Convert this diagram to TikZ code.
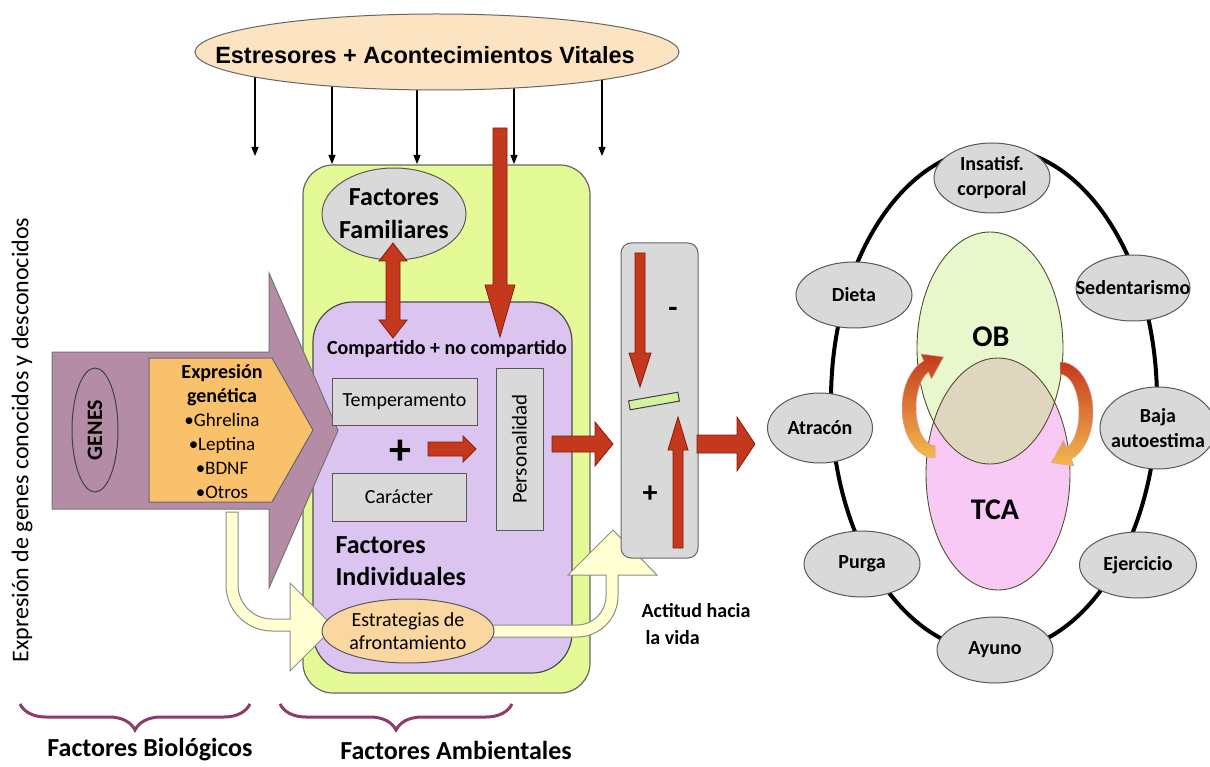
\documentclass[tikz,border=0pt]{standalone}
\usepackage{fontspec}
\setmainfont{Carlito}
\newfontfamily\arialfont{Liberation Sans}
\usetikzlibrary{shapes.geometric,decorations.pathreplacing,backgrounds,arrows.meta}
\definecolor{limeA}{HTML}{E4FA96}
\definecolor{lavA}{HTML}{DCC4F0}
\definecolor{mauveA}{HTML}{B48CA6}
\definecolor{orngA}{HTML}{F9C16B}
\definecolor{peachA}{HTML}{FAD7A0}
\definecolor{topA}{HTML}{FCE4C2}
\definecolor{lgrayA}{HTML}{D9D9D9}
\definecolor{redA}{HTML}{C4391D}
\definecolor{redD}{HTML}{8B1A0A}
\definecolor{orA}{HTML}{F5B94E}
\definecolor{lyelA}{HTML}{FFFFD2}
\definecolor{obA}{HTML}{E9F8CC}
\definecolor{tcaA}{HTML}{F9C9F6}
\definecolor{ovlA}{HTML}{DED6BE}
\definecolor{braceA}{HTML}{8E3B6B}
\definecolor{barA}{HTML}{D5F2A0}
\newcommand\HArrow[6]{%
\filldraw[redarr] ({#1},{#3-#4}) -- ({#2-(#6)},{#3-#4}) -- ({#2-(#6)},{#3-#5}) -- ({#2},{#3}) -- ({#2-(#6)},{#3+#5}) -- ({#2-(#6)},{#3+#4}) -- ({#1},{#3+#4}) -- cycle;}
\newcommand\VArrow[6]{%
\filldraw[redarr] ({#1-#4},{#2}) -- ({#1-#4},{#3-(#6)}) -- ({#1-#5},{#3-(#6)}) -- ({#1},{#3}) -- ({#1+#5},{#3-(#6)}) -- ({#1+#4},{#3-(#6)}) -- ({#1+#4},{#2}) -- cycle;}
\tikzset{
 redarr/.style={fill=redA, draw=redD, line width=0.8pt},
 box/.style={draw=black!65, fill=lgrayA, inner sep=0pt, line width=1pt, font=\fontsize{20}{24}\selectfont},
 ovalnode/.style={ellipse, draw=black!65, fill=lgrayA, inner sep=-100pt, line width=1pt, align=center, font=\bfseries\fontsize{20}{25}\selectfont},
 thinarr/.style={draw=black, line width=1.1pt, -{Triangle[length=9pt,width=7pt]}},
 bracestyle/.style={draw=braceA, line width=3pt, decorate, decoration={brace, amplitude=26pt, mirror}},
 yarrow/.style={fill=lyelA, draw=black!45, line width=1pt},
 ellline/.style={draw=black!55!olive, line width=0.9pt},
 curvarr/.style={top color=redA, bottom color=orA, draw=redD!40, line width=0.5pt},
}
\begin{document}
\begin{tikzpicture}[x=1pt,y=-1pt]
\useasboundingbox (0,0) rectangle (1210,767);
% top stress ellipse
\node[ellipse, draw=black!60, fill=topA, line width=1pt, minimum width=484, minimum height=76, inner sep=-100pt] (top) at (437,52) {};
\node[font=\arialfont\bfseries\fontsize{23.5}{28}\selectfont] (toptxt) at (425,55) {Estresores + Acontecimientos Vitales};
\coordinate (e1) at (255,156);
\coordinate (e2) at (332,164);
\coordinate (e3) at (417,164);
\coordinate (e4) at (514,164);
\coordinate (e5) at (602,156);
\begin{scope}[on background layer]
\fill[white] (0,0) rectangle (1210,767);
\foreach \e in {e1,e2,e3,e4,e5} \draw[thinarr] (top.center -| \e) -- (\e);
\end{scope}
% environment boxes
\node[draw=black!60, fill=limeA, line width=1.2pt, rounded corners=30pt, minimum width=287, minimum height=528] (amb) at (446.5,429) {};
\node[draw=black!70, fill=lavA, line width=1.2pt, rounded corners=40pt, minimum width=259, minimum height=371] (ind) at (442.5,487.5) {};
% big purple arrow
\filldraw[draw=black!55, fill=mauveA, line width=1pt] (52,352) -- (269,352) -- (269,273) -- (338,430.5) -- (269,588) -- (269,509) -- (52,509) -- cycle;
\node[ellipse, draw=black!75, fill=mauveA, line width=1pt, minimum width=46, minimum height=124, inner sep=-100pt, font=\bfseries\fontsize{22}{26}\selectfont] (genes) at (95,430) {\rotatebox{90}{GENES}};
\filldraw[draw=black!60, fill=orngA, line width=1pt] (149,358) -- (272,358) -- (313,430) -- (272,502) -- (149,502) -- cycle;
\node[align=center, font=\fontsize{19}{24}\selectfont] (expr) at (222,432) {\textbf{\fontsize{20}{24}\selectfont Expresión}\\\textbf{\fontsize{20}{24}\selectfont genética}\\•Ghrelina\\•Leptina\\•BDNF\\•Otros};
% vertical text
\node[rotate=90, font=\fontsize{24}{28}\selectfont] (vtxt) at (22,440) {Expresión de genes conocidos y desconocidos};
% light yellow curved arrows
\filldraw[yarrow] (226,512) -- (226,585) arc[start angle=180, end angle=90, radius=46] -- (290,631) -- (290,671) -- (334,627) -- (290,583) -- (290,619) -- (272,619) arc[start angle=90, end angle=180, radius=34] -- (238,512) -- cycle;
\filldraw[yarrow] (480,637) -- (577,637) arc[start angle=90, end angle=0, radius=41] -- (618,575) -- (657,575) -- (613,530) -- (568,575) -- (606,575) -- (606,596) arc[start angle=0, end angle=90, radius=29] -- (480,625) -- cycle;
% coping strategies
\node[ellipse, draw=black!65, fill=peachA, line width=1pt, minimum width=172, minimum height=64, inner sep=-100pt, align=center, font=\fontsize{20}{23}\selectfont] (estr) at (408,631) {Estrategias de\\afrontamiento};
% family factors
\node[ellipse, draw=black!65, fill=lgrayA, line width=1pt, minimum width=144, minimum height=92, inner sep=-100pt, align=center, font=\bfseries\fontsize{26}{33}\selectfont] (fam) at (394,214) {Factores\\Familiares};
% red arrows
\filldraw[redarr] (386,261) -- (379,261) -- (393,243) -- (407,261) -- (400,261) -- (400,320) -- (407,320) -- (393,338) -- (379,320) -- (386,320) -- cycle;
\VArrow{500}{128}{337}{7}{15}{52}
\node[font=\bfseries\fontsize{20}{24}\selectfont] (comp) at (447,349) {Compartido + no compartido};
\node[box, minimum width=145, minimum height=47] (temp) at (404.5,401.5) {Temperamento};
\node[box, minimum width=134, minimum height=48] (car) at (399,497) {Carácter};
\node[box, minimum width=47, minimum height=162, font=\fontsize{21}{24}\selectfont] (pers) at (519.5,449) {\rotatebox{90}{Personalidad}};
\node[font=\bfseries\fontsize{44}{44}\selectfont] (plus) at (400,452) {+};
\HArrow{428}{476}{449}{7}{13}{13}
\HArrow{552}{613}{444}{8}{22}{18}
\node[anchor=west, align=left, font=\bfseries\fontsize{26}{32}\selectfont] (find) at (332,561) {Factores\\Individuales};
% attitude panel
\node[draw=black!60, fill=lgrayA, line width=1pt, rounded corners=10pt, minimum width=77, minimum height=315] (panel) at (659.5,400.5) {};
\VArrow{640}{253}{387}{5}{11}{34}
\VArrow{678}{548}{417}{5}{10}{-33}
\node[draw=black!75, fill=barA, line width=1pt, minimum width=50, minimum height=9, inner sep=0pt, rotate=10] (bar) at (654,401) {};
\node[font=\bfseries\fontsize{30}{30}\selectfont] (minus) at (673,312) {-};
\node[font=\bfseries\fontsize{30}{30}\selectfont] (pluss) at (650,494) {+};
\HArrow{697}{755}{444}{9}{27}{18}
\node[anchor=west, align=left, font=\bfseries\fontsize{20}{27}\selectfont] (act) at (638,624) {Actitud hacia\\\hspace{4pt}la vida};
% braces
\coordinate (b1l) at (20,704); \coordinate (b1r) at (250,704);
\coordinate (b2l) at (280,704); \coordinate (b2r) at (512,704);
\draw[bracestyle] (b1l) -- (b1r);
\draw[bracestyle] (b2l) -- (b2r);
\node[font=\bfseries\fontsize{26}{30}\selectfont] (fbio) at (150,750) {Factores Biológicos};
\node[font=\bfseries\fontsize{26}{30}\selectfont] (famb) at (456,750) {Factores Ambientales};
% right diagram
\node[ellipse, draw=black, line width=4pt, minimum width=326, minimum height=504, inner sep=-100pt] (ring) at (994,400) {};
\node[ellipse, fill=obA, minimum width=146, minimum height=232, inner sep=-100pt] (ob) at (990,348) {};
\node[ellipse, fill=tcaA, minimum width=144, minimum height=232, inner sep=-100pt] (tca) at (998,474) {};
\begin{scope}
\clip (ob.center) ellipse [x radius=73, y radius=116];
\fill[ovlA] (tca.center) ellipse [x radius=72, y radius=116];
\end{scope}
\draw[ellline] (ob.center) ellipse [x radius=73, y radius=116];
\draw[ellline] (tca.center) ellipse [x radius=72, y radius=116];
\node[font=\bfseries\fontsize{30}{30}\selectfont] (obt) at (991,337) {OB};
\node[font=\bfseries\fontsize{30}{30}\selectfont] (tcat) at (995,510) {TCA};
\shade[curvarr] (935,458) arc[start angle=90, end angle=250, x radius=33, y radius=50] -- (921,354) -- (943.5,357) -- (931.5,379) -- (928.5,372) arc[start angle=250, end angle=90, x radius=19, y radius=38] -- cycle;
\shade[curvarr] (1060,362) arc[start angle=-90, end angle=70, x radius=33, y radius=50] -- (1074,466) -- (1051.5,462.6) -- (1063.5,440.6) -- (1066.5,448) arc[start angle=70, end angle=-90, x radius=19, y radius=38] -- cycle;
\node[ovalnode, minimum width=116, minimum height=70] (insat) at (992,178) {Insatisf.\\corporal};
\node[ovalnode, minimum width=114, minimum height=66] (sed) at (1133,288) {Sedentarismo};
\node[ovalnode, minimum width=116, minimum height=82] (baja) at (1158,428) {Baja\\autoestima};
\node[ovalnode, minimum width=117, minimum height=66] (ejer) at (1138,565) {Ejercicio};
\node[ovalnode, minimum width=116, minimum height=66] (ayuno) at (995,650) {Ayuno};
\node[ovalnode, minimum width=116, minimum height=66] (purga) at (862,564) {Purga};
\node[ovalnode, minimum width=105, minimum height=70] (atra) at (820,428) {Atracón};
\node[ovalnode, minimum width=116, minimum height=66] (dieta) at (854,295) {Dieta};
\end{tikzpicture}
\end{document}
